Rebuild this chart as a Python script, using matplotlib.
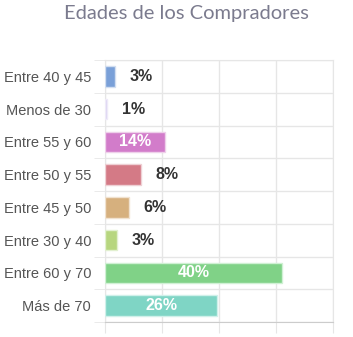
import numpy as np
import matplotlib.pyplot as plt

# Datos del gráfico
categorias = ["Entre 40 y 45", "Menos de 30", "Entre 55 y 60", "Entre 50 y 55",
              "Entre 45 y 50", "Entre 30 y 40", "Entre 60 y 70", "Más de 70"]
valores = [2.3, 0.5, 13.6, 8.1, 5.4, 2.7, 40.0, 25.3]
etiquetas = ["3%", "1%", "14%", "8%", "6%", "3%", "40%", "26%"]
dentro = [False, False, True, False, False, False, True, True]
colores = ["#7aa0d8", "#d8cff0", "#d27cca", "#d47a86", "#d6b07e",
           "#b7d67f", "#80d287", "#7fd5c5"]
bordes = ["#d2def0", "#eeeaf8", "#eed0ea", "#eed0d4", "#f0e2d0",
          "#e2f0d0", "#d0f0d4", "#d0f0ea"]

xmax = 51.5

fig = plt.figure(figsize=(3.53, 3.37), dpi=100)
ax = fig.add_axes([105 / 353, 15 / 337, 228 / 353, 262 / 337])

y = np.arange(len(categorias))
ax.barh(y, valores, height=0.62, color=colores, edgecolor=bordes, linewidth=1.0, zorder=3)

for yi, v, txt, inn in zip(y, valores, etiquetas, dentro):
    if inn:
        ax.text(v / 2, yi, txt, ha="center", va="center", color="white",
                fontsize=11.5, fontweight="bold", family="Liberation Sans", zorder=4)
    else:
        ax.annotate(txt, (v, yi), xytext=(26, 0), textcoords="offset pixels",
                    ha="center", va="center", color="#333333",
                    fontsize=11.5, fontweight="bold", family="Liberation Sans", zorder=4)

ax.set_xlim(0, xmax)
ax.set_ylim(len(categorias) - 0.5, -0.5)
ax.set_xticks(np.linspace(0, xmax, 5))
ax.set_xticklabels([])
ax.set_yticks(y)
ax.set_yticklabels(categorias, fontsize=10.5, family="Liberation Sans", color="#555555")
ax.set_yticks(np.arange(-0.5, len(categorias)), minor=True)
ax.tick_params(axis="y", which="major", length=0, pad=10)
ax.tick_params(axis="y", which="minor", length=8, color="#e6e6e6")
ax.tick_params(axis="x", which="major", length=8, color="#e6e6e6")
ax.grid(True, axis="x", which="major", color="#e6e6e6", linewidth=1, zorder=0)
ax.grid(True, axis="y", which="minor", color="#e6e6e6", linewidth=1, zorder=0)

for s in ["top", "right", "left"]:
    ax.spines[s].set_color("#e6e6e6")
ax.spines["bottom"].set_color("#cccccc")

fig.text(186 / 353, 1 - 13 / 337, "Edades de los Compradores", ha="center", va="center",
         fontsize=14.5, family="Lato", color="#7b7b8e")

plt.savefig("out.png", dpi=100)
